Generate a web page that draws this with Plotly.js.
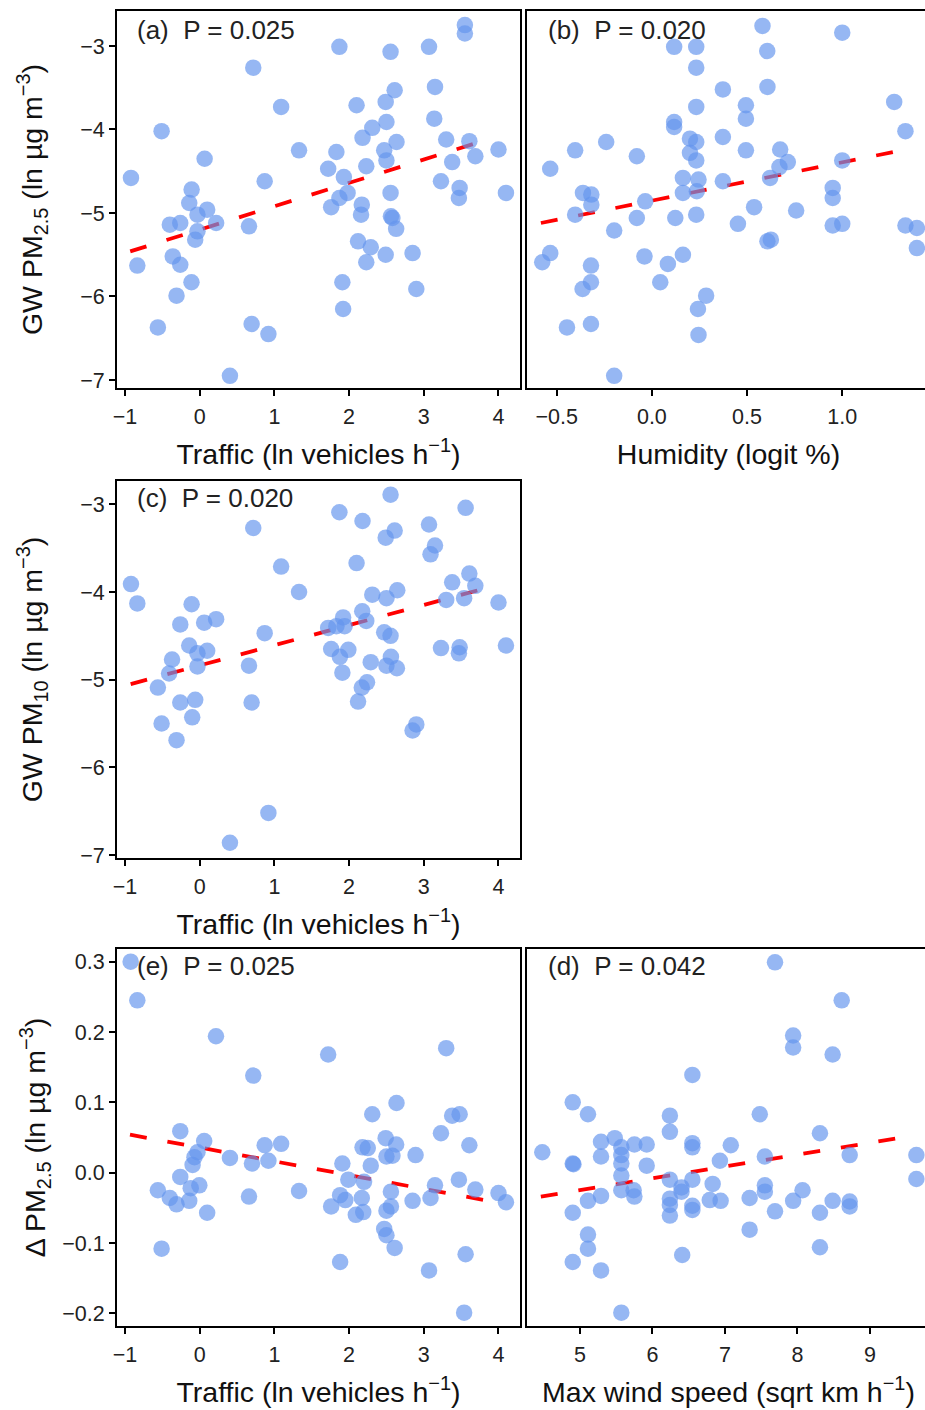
<!DOCTYPE html>
<html>
<head>
<meta charset="utf-8">
<script src="https://cdn.plot.ly/plotly-3.0.1.min.js"></script>
<style>
html,body{margin:0;padding:0;overflow:hidden;background:#fff;width:925px;height:1410px;}
#chart{width:940px;height:1410px;}
</style>
</head>
<body>
<div id="chart"></div>
<script>
// Panel (a): traffic vs GW PM2.5
const aX = [3.55,3.55,1.87,2.555,3.07,0.717,3.15,2.61,2.49,2.10,1.09,2.50,3.14,2.31,-0.51,2.18,2.635,3.30,3.61,2.47,1.33,1.83,4.00,3.69,0.066,2.50,3.38,2.23,1.72,-0.92,0.87,3.23,1.93,3.48,3.47,4.10,2.555,1.98,1.87,-0.108,-0.14,1.76,2.17,2.16,0.10,-0.03,2.56,2.58,2.63,0.22,-0.26,-0.40,0.66,-0.03,-0.06,2.12,2.29,2.49,2.85,-0.36,-0.26,-0.835,2.23,-0.11,1.91,2.90,-0.31,1.92,0.695,-0.56,0.92,0.405];
const aY = [-2.75,-2.85,-3.01,-3.07,-3.01,-3.26,-3.49,-3.53,-3.67,-3.71,-3.73,-3.91,-3.87,-3.98,-4.02,-4.10,-4.15,-4.12,-4.14,-4.25,-4.25,-4.27,-4.24,-4.32,-4.35,-4.37,-4.39,-4.44,-4.47,-4.58,-4.62,-4.62,-4.57,-4.70,-4.82,-4.76,-4.76,-4.76,-4.82,-4.72,-4.88,-4.93,-4.90,-5.02,-4.96,-5.02,-5.04,-5.06,-5.19,-5.12,-5.12,-5.14,-5.16,-5.22,-5.32,-5.34,-5.41,-5.50,-5.48,-5.52,-5.62,-5.63,-5.59,-5.83,-5.83,-5.91,-5.99,-6.15,-6.33,-6.37,-6.45,-6.95];
const aFitX = [-0.93, 3.82];
const aFitY = [-5.46, -4.13];

// Panel (b): humidity vs GW PM2.5
const bX = [0.581,1.0,0.117,0.233,0.606,0.233,0.607,0.373,0.494,0.233,1.273,0.494,0.117,0.117,1.332,-0.24,0.373,0.20,0.233,-0.403,0.20,0.494,-0.079,0.674,0.233,0.714,1.0,0.67,-0.534,0.163,0.621,0.373,0.245,0.236,0.163,-0.362,-0.318,-0.318,0.95,0.95,-0.035,0.537,0.758,-0.403,-0.079,0.123,0.233,0.452,0.95,1.0,1.332,1.392,-0.198,0.607,0.625,1.392,-0.534,-0.576,-0.039,0.163,0.084,-0.32,-0.32,-0.364,0.044,0.285,0.242,-0.446,-0.32,0.245,-0.198];
const bY = [-2.76,-2.84,-3.01,-3.01,-3.06,-3.26,-3.49,-3.52,-3.71,-3.73,-3.67,-3.87,-3.91,-3.97,-4.02,-4.15,-4.09,-4.11,-4.15,-4.25,-4.28,-4.25,-4.32,-4.24,-4.37,-4.39,-4.37,-4.45,-4.47,-4.58,-4.58,-4.62,-4.60,-4.74,-4.76,-4.76,-4.78,-4.90,-4.70,-4.82,-4.86,-4.93,-4.97,-5.02,-5.06,-5.06,-5.02,-5.13,-5.15,-5.13,-5.15,-5.18,-5.21,-5.34,-5.32,-5.42,-5.48,-5.59,-5.52,-5.50,-5.61,-5.63,-5.83,-5.91,-5.83,-5.99,-6.15,-6.37,-6.33,-6.46,-6.95];
const bFitX = [-0.583, 1.334];
const bFitY = [-5.12, -4.24];

// Panel (c): traffic vs GW PM10
const cX = [2.555,1.87,2.18,3.56,3.07,0.717,2.61,2.49,3.15,3.09,2.10,1.09,-0.92,3.61,3.38,3.69,1.33,2.645,2.31,2.50,-0.835,3.30,3.54,4.00,-0.108,2.176,1.92,2.23,0.22,0.06,-0.26,1.72,1.94,1.83,0.87,2.47,2.555,-0.14,0.10,-0.03,1.76,1.99,3.23,3.48,4.10,3.47,-0.37,1.877,2.56,-0.03,2.29,2.50,2.64,0.66,-0.41,1.91,-0.56,2.24,2.17,-0.06,-0.26,0.695,2.12,-0.51,-0.10,-0.31,2.90,2.85,0.92,0.405];
const cY = [-2.89,-3.09,-3.19,-3.04,-3.23,-3.27,-3.30,-3.38,-3.47,-3.57,-3.67,-3.71,-3.91,-3.79,-3.89,-3.93,-4.00,-3.98,-4.03,-4.07,-4.13,-4.09,-4.07,-4.12,-4.14,-4.22,-4.29,-4.33,-4.31,-4.35,-4.37,-4.41,-4.39,-4.39,-4.47,-4.46,-4.50,-4.61,-4.67,-4.70,-4.65,-4.66,-4.64,-4.63,-4.61,-4.70,-4.77,-4.74,-4.74,-4.85,-4.80,-4.84,-4.87,-4.84,-4.93,-4.92,-5.09,-5.03,-5.09,-5.23,-5.26,-5.26,-5.25,-5.50,-5.43,-5.69,-5.51,-5.58,-6.52,-6.86];
const cFitX = [-0.924, 3.86];
const cFitY = [-5.05, -3.95];

// Panel (e): traffic vs delta PM2.5
const eX = [-0.924,-0.835,0.218,1.72,3.30,0.717,2.635,2.31,3.38,3.48,-0.26,3.23,3.61,0.06,2.49,2.63,0.87,1.09,2.18,2.25,-0.03,0.405,-0.07,-0.095,2.50,2.58,2.89,0.92,0.70,1.91,2.29,-0.26,1.99,2.20,3.47,3.15,-0.005,-0.12,-0.56,1.33,2.56,3.69,4.00,0.66,-0.40,-0.31,-0.14,1.88,1.95,2.17,3.09,2.85,4.10,1.76,2.56,2.50,0.10,2.09,2.19,2.47,2.50,2.61,-0.51,3.56,1.88,3.07,3.54];
const eY = [0.300,0.245,0.194,0.168,0.177,0.138,0.099,0.083,0.081,0.083,0.059,0.056,0.039,0.045,0.049,0.040,0.039,0.041,0.036,0.035,0.029,0.021,0.022,0.011,0.023,0.024,0.025,0.017,0.013,0.013,0.010,-0.006,-0.010,-0.013,-0.010,-0.018,-0.018,-0.022,-0.025,-0.026,-0.027,-0.024,-0.029,-0.034,-0.036,-0.045,-0.040,-0.032,-0.039,-0.036,-0.036,-0.040,-0.042,-0.048,-0.048,-0.054,-0.057,-0.060,-0.056,-0.080,-0.089,-0.107,-0.108,-0.116,-0.127,-0.139,-0.199];
const eFitX = [-0.933, 3.97];
const eFitY = [0.054, -0.042];

// Panel (d): max wind speed vs delta PM2.5
const dX = [7.69,8.61,7.94,7.94,8.485,6.55,4.90,5.11,6.24,7.48,6.24,8.31,4.48,5.29,5.48,5.57,5.75,5.92,6.55,6.55,7.08,5.29,5.57,7.55,8.72,9.64,4.90,4.91,5.57,5.92,6.93,5.57,6.24,9.64,6.55,6.83,5.57,5.74,5.75,6.40,6.40,7.55,7.55,8.07,5.29,5.11,6.24,6.24,6.79,6.94,7.34,7.94,8.485,8.72,8.72,6.55,6.55,4.90,7.69,8.31,6.24,7.34,5.11,5.11,4.90,5.29,8.31,6.41,5.57];
const dY = [0.299,0.245,0.195,0.178,0.168,0.139,0.100,0.083,0.081,0.083,0.058,0.056,0.029,0.044,0.049,0.036,0.040,0.040,0.042,0.036,0.039,0.023,0.025,0.023,0.025,0.025,0.013,0.012,0.013,0.010,0.017,-0.004,-0.010,-0.009,-0.010,-0.016,-0.025,-0.025,-0.034,-0.021,-0.027,-0.018,-0.027,-0.025,-0.033,-0.040,-0.037,-0.046,-0.039,-0.040,-0.036,-0.040,-0.040,-0.041,-0.048,-0.047,-0.053,-0.057,-0.055,-0.057,-0.061,-0.081,-0.088,-0.108,-0.127,-0.139,-0.106,-0.117,-0.199];
const dFitX = [4.46, 9.51];
const dFitY = [-0.034, 0.051];

const panelLabels = ["(a)  P = 0.025", "(b)  P = 0.020", "(c)  P = 0.020", "(e)  P = 0.025", "(d)  P = 0.042"];

const W = 940, H = 1410;
const FONT = "Liberation Sans, Arial, sans-serif";
const ptColor = "rgba(100,149,237,0.68)";

function pts(x, y, xa, ya) {
  return {x: x, y: y, xaxis: xa, yaxis: ya, type: "scatter", mode: "markers",
    marker: {size: 16.5, color: ptColor, line: {width: 0}}, hoverinfo: "x+y", showlegend: false};
}
function fit(x, y, xa, ya) {
  return {x: x, y: y, xaxis: xa, yaxis: ya, type: "scatter", mode: "lines",
    line: {color: "#ff0000", width: 3.8, dash: "17px,21px"}, hoverinfo: "skip", showlegend: false};
}

const data = [
  fit(aFitX, aFitY, "x", "y"), pts(aX, aY, "x", "y"),
  fit(bFitX, bFitY, "x2", "y2"), pts(bX, bY, "x2", "y2"),
  fit(cFitX, cFitY, "x3", "y3"), pts(cX, cY, "x3", "y3"),
  fit(eFitX, eFitY, "x4", "y4"), pts(eX, eY, "x4", "y4"),
  fit(dFitX, dFitY, "x5", "y5"), pts(dX, dY, "x5", "y5")
];

function dx(l, r) { return [l / W, r / W]; }
function dy(t, b) { return [1 - b / H, 1 - t / H]; }

const tickFont = {family: FONT, size: 21.5, color: "#222"};
const titleFont = {family: FONT, size: 28.5, color: "#111"};

function xax(dom, anchor, range, dtick, fmt, title) {
  return {domain: dom, anchor: anchor, range: range, dtick: dtick, tick0: 0,
    tickformat: fmt, showline: true, mirror: true, linewidth: 2, linecolor: "#000",
    ticks: "outside", ticklen: 6, tickwidth: 2, tickcolor: "#000", ticklabelstandoff: 2,
    showgrid: false, zeroline: false, tickfont: tickFont, automargin: false,
    title: {text: title, font: titleFont, standoff: 16}};
}
function yax(dom, anchor, range, dtick, fmt, title, showLabels, standoff) {
  const ax = {domain: dom, anchor: anchor, range: range, dtick: dtick, tick0: 0,
    tickformat: fmt, showline: true, mirror: true, linewidth: 2, linecolor: "#000",
    ticks: showLabels ? "outside" : "", ticklen: 6, tickwidth: 2, tickcolor: "#000",
    showticklabels: showLabels, showgrid: false, zeroline: false, tickfont: tickFont,
    automargin: false};
  if (title) ax.title = {text: title, font: titleFont, standoff: standoff};
  return ax;
}

const trafficTitle = "Traffic (ln vehicles h<sup>\u22121</sup>)";

const layout = {
  width: W, height: H,
  margin: {l: 0, r: 0, t: 0, b: 0},
  paper_bgcolor: "#fff", plot_bgcolor: "#fff",
  font: {family: FONT, color: "#111"},
  showlegend: false,
  xaxis:  xax(dx(117, 520), "y",  [-1.107, 4.288], 1, "d", trafficTitle),
  yaxis:  yax(dy(11, 388),  "x",  [-7.096, -2.581], 1, "d", "GW PM<sub>2.5</sub> (ln \u00b5g m<sup>\u22123</sup>)", true, 29),
  xaxis2: xax(dx(527, 930), "y2", [-0.656, 1.461], 0.5, ".1f", "Humidity (logit %)"),
  yaxis2: yax(dy(11, 388),  "x2", [-7.096, -2.581], 1, "d", null, false),
  xaxis3: xax(dx(117, 520), "y3", [-1.107, 4.288], 1, "d", trafficTitle),
  yaxis3: yax(dy(481, 858), "x3", [-7.034, -2.734], 1, "d", "GW PM<sub>10</sub> (ln \u00b5g m<sup>\u22123</sup>)", true, 29),
  xaxis4: xax(dx(117, 520), "y4", [-1.107, 4.288], 1, "d", trafficTitle),
  yaxis4: yax(dy(949, 1326), "x4", [-0.218, 0.318], 0.1, ".1f", "\u0394 PM<sub>2.5</sub> (ln \u00b5g m<sup>\u22123</sup>)", true, 8),
  xaxis5: xax(dx(527, 930), "y5", [4.269, 9.828], 1, "d", "Max wind speed (sqrt km h<sup>\u22121</sup>)"),
  yaxis5: yax(dy(949, 1326), "x5", [-0.218, 0.318], 0.1, ".1f", null, false),
  annotations: [
    {xref: "paper", yref: "paper", x: 135 / W, y: 1 - 30 / H, text: panelLabels[0]},
    {xref: "paper", yref: "paper", x: 546 / W, y: 1 - 30 / H, text: panelLabels[1]},
    {xref: "paper", yref: "paper", x: 135 / W, y: 1 - 498 / H, text: panelLabels[2]},
    {xref: "paper", yref: "paper", x: 135 / W, y: 1 - 966 / H, text: panelLabels[3]},
    {xref: "paper", yref: "paper", x: 546 / W, y: 1 - 966 / H, text: panelLabels[4]}
  ].map(a => Object.assign(a, {showarrow: false, xanchor: "left", yanchor: "middle",
        font: {family: FONT, size: 26, color: "#222"}}))
};

Plotly.newPlot("chart", data, layout, {staticPlot: true, displayModeBar: false});
</script>
</body>
</html>
